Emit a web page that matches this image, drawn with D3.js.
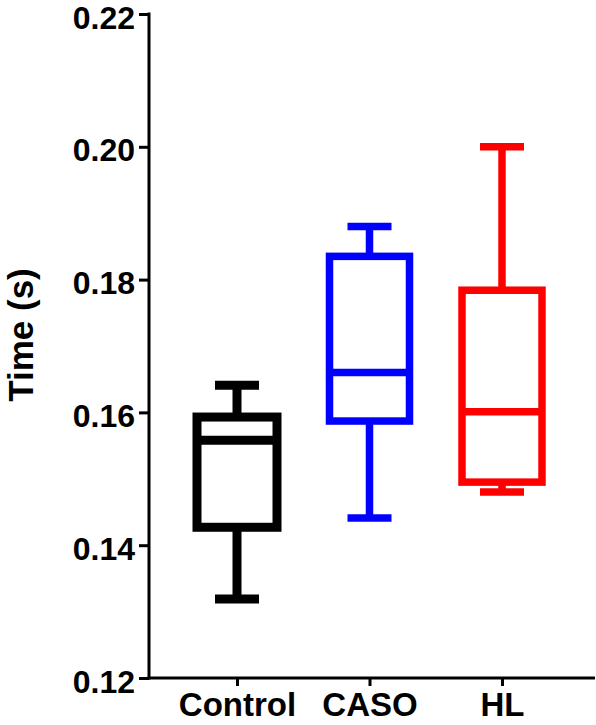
<!DOCTYPE html>
<html>
<head>
<meta charset="utf-8">
<script src="https://cdn.jsdelivr.net/npm/d3@7"></script>
<style>
  html, body { margin: 0; padding: 0; background: #fff; }
  svg { display: block; }
  text { font-family: "Liberation Sans", Arial, sans-serif; font-weight: bold; fill: #000; }
</style>
</head>
<body>
<svg id="chart" width="596" height="725"></svg>
<script>
const categories = ["Control", "CASO", "HL"];
const whiskerLow  = [0.1319, 0.1441, 0.1480];
const q1          = [0.1427, 0.1587, 0.1495];
const median      = [0.1558, 0.1660, 0.1601];
const q3          = [0.1593, 0.1835, 0.1784];
const whiskerHigh = [0.1641, 0.1880, 0.2000];
const colors      = ["#000000", "#0000ff", "#ff0000"];
const strokeWidths = [9, 7.5, 7.5];
const yTicks = [0.12, 0.14, 0.16, 0.18, 0.20, 0.22];
const yLabel = "Time (s)";

const svg = d3.select("#chart");
const axisX = 149, axisY = 678, axisRight = 595;

const y = d3.scaleLinear().domain([0.12, 0.22]).range([678, 14]);
const x = d3.scalePoint().domain(categories).range([237, 502]);

const boxW = 80, capW = 44;

// Boxes
categories.forEach((c, i) => {
  const g = svg.append("g")
    .attr("stroke", colors[i])
    .attr("stroke-width", strokeWidths[i])
    .attr("fill", "none");
  const cx = x(c);
  g.append("line").attr("x1", cx).attr("x2", cx).attr("y1", y(whiskerHigh[i])).attr("y2", y(q3[i]));
  g.append("line").attr("x1", cx).attr("x2", cx).attr("y1", y(q1[i])).attr("y2", y(whiskerLow[i]));
  g.append("line").attr("x1", cx - capW/2).attr("x2", cx + capW/2).attr("y1", y(whiskerHigh[i])).attr("y2", y(whiskerHigh[i]));
  g.append("line").attr("x1", cx - capW/2).attr("x2", cx + capW/2).attr("y1", y(whiskerLow[i])).attr("y2", y(whiskerLow[i]));
  g.append("rect")
    .attr("x", cx - boxW/2).attr("width", boxW)
    .attr("y", y(q3[i])).attr("height", y(q1[i]) - y(q3[i]))
    .attr("fill", "#fff");
  g.append("line").attr("x1", cx - boxW/2).attr("x2", cx + boxW/2).attr("y1", y(median[i])).attr("y2", y(median[i]));
});

// Y axis
const yAxis = svg.append("g")
  .attr("transform", `translate(${axisX},0)`)
  .call(d3.axisLeft(y).tickValues(yTicks).tickFormat(d3.format(".2f")).tickSize(10).tickPadding(4).tickSizeOuter(0));
yAxis.select(".domain").remove();
yAxis.selectAll(".tick line").attr("stroke", "#000").attr("stroke-width", 3);
yAxis.selectAll(".tick text").style("font-size", "32px").style("font-family", "'Liberation Sans', Arial, sans-serif").style("font-weight", "bold").attr("dy", "0.44em");

// X axis
const xAxis = svg.append("g")
  .attr("transform", `translate(0,${axisY})`)
  .call(d3.axisBottom(x).tickSize(8).tickPadding(7).tickSizeOuter(0));
xAxis.select(".domain").remove();
xAxis.selectAll(".tick line").attr("stroke", "#000").attr("stroke-width", 3);
xAxis.selectAll(".tick text").style("font-size", "33px").style("font-family", "'Liberation Sans', Arial, sans-serif").style("font-weight", "bold");

// Axis lines
svg.append("line").attr("x1", axisX).attr("x2", axisX).attr("y1", y(0.22) - 1.5).attr("y2", axisY + 1.5)
  .attr("stroke", "#000").attr("stroke-width", 3);
svg.append("line").attr("x1", axisX - 1.5).attr("x2", axisRight).attr("y1", axisY).attr("y2", axisY)
  .attr("stroke", "#000").attr("stroke-width", 3);

// Y label
svg.append("text")
  .attr("transform", `translate(33,335) rotate(-90)`)
  .attr("text-anchor", "middle")
  .style("font-size", "35px")
  .text(yLabel);
</script>
</body>
</html>
